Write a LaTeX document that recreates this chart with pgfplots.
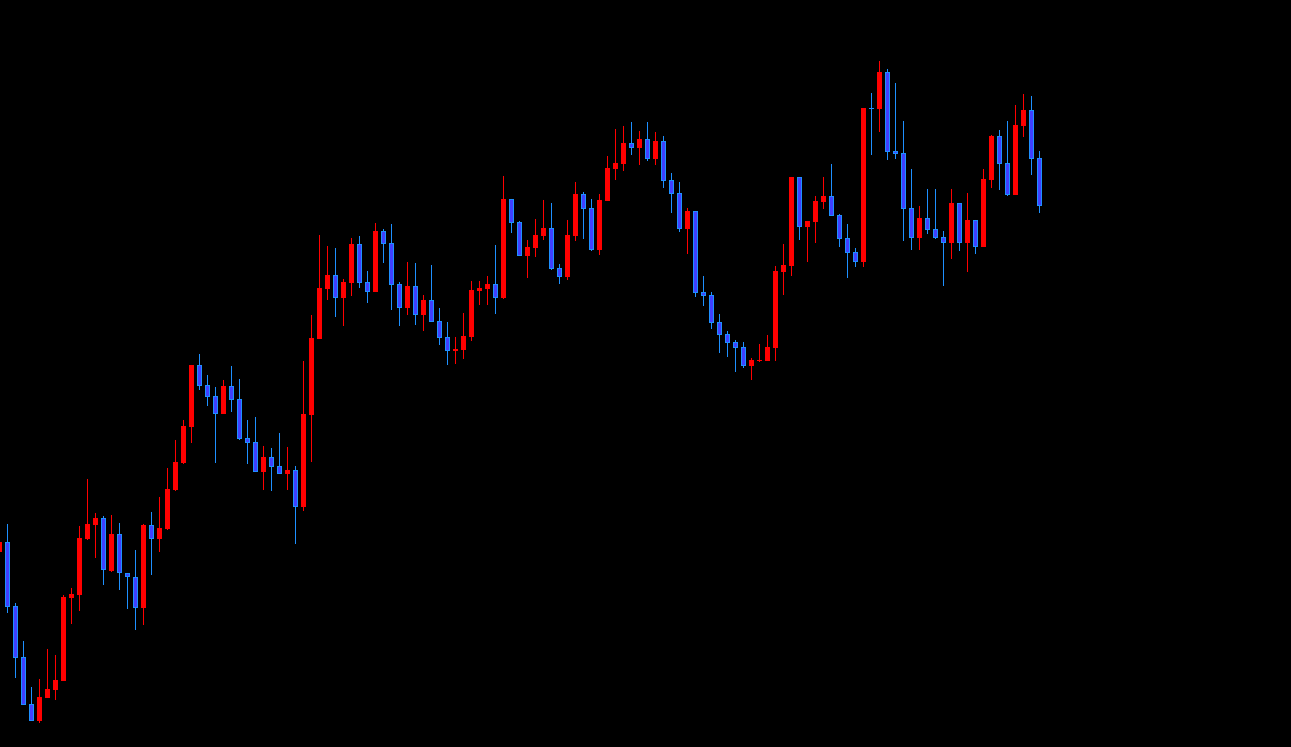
\documentclass[border=0pt]{standalone}
\usepackage{pgfplots}
\usepackage{pgfplotstable}
\pgfplotsset{compat=1.18}
\definecolor{upred}{RGB}{255,0,0}
\definecolor{dnfill}{RGB}{64,64,255}
\definecolor{dnedge}{RGB}{30,144,255}
% candles: i = bar index, o h l c = open high low close (chart position, larger = lower)
\pgfplotstableread{
i o h l c
0 552 541 552 542
5 721 679 723 697
6 698 649 698 689
7 690 655 700 680
8 681 595 681 597
9 598 588 624 594
10 595 526 611 538
11 539 479 540 524
12 525 513 558 518
14 571 515 572 534
18 608 524 625 525
20 539 497 552 528
21 529 468 530 489
22 490 440 491 462
23 463 420 464 426
24 427 365 443 365
28 414 380 414 386
33 472 446 490 457
36 474 447 490 470
38 507 361 511 414
39 415 315 462 338
40 339 235 339 288
41 289 246 300 275
43 298 279 326 282
44 283 238 296 244
47 292 223 292 231
51 308 262 315 286
53 315 295 331 300
57 351 337 364 349
58 350 313 359 336
59 337 281 341 290
60 291 281 305 288
61 289 276 305 284
63 298 176 299 199
66 256 240 278 247
67 248 219 257 235
68 236 200 240 228
71 277 220 280 235
72 236 182 241 194
75 250 194 255 200
76 201 156 201 168
77 169 129 180 163
78 164 126 171 143
80 148 131 165 139
82 159 132 165 141
86 229 208 254 211
94 366 358 380 360
95 361 344 362 360
96 361 335 361 347
97 348 266 361 271
98 272 244 295 265
99 266 177 276 177
101 227 221 262 221
102 222 196 243 201
103 202 177 209 196
108 262 108 267 108
110 109 61 132 72
115 238 206 250 218
119 243 189 259 203
121 243 193 272 220
123 247 169 247 179
124 180 135 188 136
127 195 105 195 125
128 126 94 137 110
}\upT
\pgfplotstableread{
i o h l c
1 542 524 613 607
2 606 603 678 658
3 657 641 705 705
4 704 687 721 721
13 518 516 585 570
15 534 523 590 573
16 573 573 609 577
17 577 550 630 608
19 525 512 575 539
25 365 354 390 386
26 385 375 406 397
27 396 387 463 414
29 386 366 412 400
30 399 379 440 439
31 438 420 464 443
32 442 417 472 472
34 457 448 491 467
35 466 433 474 474
37 470 466 544 507
42 275 248 317 298
45 244 236 288 283
46 282 271 303 292
48 231 229 263 244
49 243 224 310 285
50 284 282 326 308
52 286 263 325 315
54 300 265 322 322
55 321 308 345 338
56 337 322 365 351
62 284 245 314 298
64 199 199 233 223
65 222 221 256 256
69 228 203 270 269
70 268 264 284 277
73 194 192 239 209
74 208 199 251 250
79 143 122 155 148
81 139 122 161 159
83 141 136 188 181
84 180 173 213 194
85 193 182 232 229
87 211 211 297 293
88 292 276 306 296
89 295 292 329 323
90 322 314 353 335
91 334 331 357 343
92 342 340 372 348
93 347 342 368 366
100 177 177 240 227
104 196 164 216 216
105 215 214 247 239
106 238 224 278 253
107 252 248 267 262
109 108 93 155 109
111 72 69 160 152
112 151 83 159 154
113 153 121 241 209
114 208 169 250 238
116 218 189 234 230
117 229 189 239 238
118 237 231 286 243
120 203 203 251 243
122 220 220 254 247
125 136 130 190 164
126 163 121 196 195
129 110 96 175 159
130 158 151 213 206
}\dnT
\begin{document}
\begin{tikzpicture}
\fill[black] (0,0) rectangle (645.5pt,373.5pt);
\begin{axis}[at={(0,0)}, anchor=south west, scale only axis,
  width=645.5pt, height=373.5pt,
  xmin=0.0625, xmax=161.4375, ymin=0, ymax=747, y dir=reverse,
  hide axis, clip=true]
% wicks
\addplot[draw=upred, line width=0.5pt, no markers, quiver={u=0, v=\thisrow{l}-\thisrow{h}}]
  table[x=i, y=h] {\upT};
\addplot[draw=dnedge, line width=0.5pt, no markers, quiver={u=0, v=\thisrow{l}-\thisrow{h}}]
  table[x=i, y=h] {\dnT};
% up bodies
\addplot[draw=upred, line width=2.5pt, no markers, quiver={u=0, v=\thisrow{o}-\thisrow{c}}]
  table[x=i, y=c] {\upT};
% down bodies: edge then fill
\addplot[draw=dnedge, line width=2.5pt, no markers, quiver={u=0, v=\thisrow{c}-\thisrow{o}}]
  table[x=i, y=o] {\dnT};
\addplot[draw=dnfill, line width=1.5pt, no markers, quiver={u=0, v={max(\thisrow{c}-\thisrow{o}-2,0)}}]
  table[x=i, y expr=\thisrow{o}+1] {\dnT};
\end{axis}
\end{tikzpicture}
\end{document}
